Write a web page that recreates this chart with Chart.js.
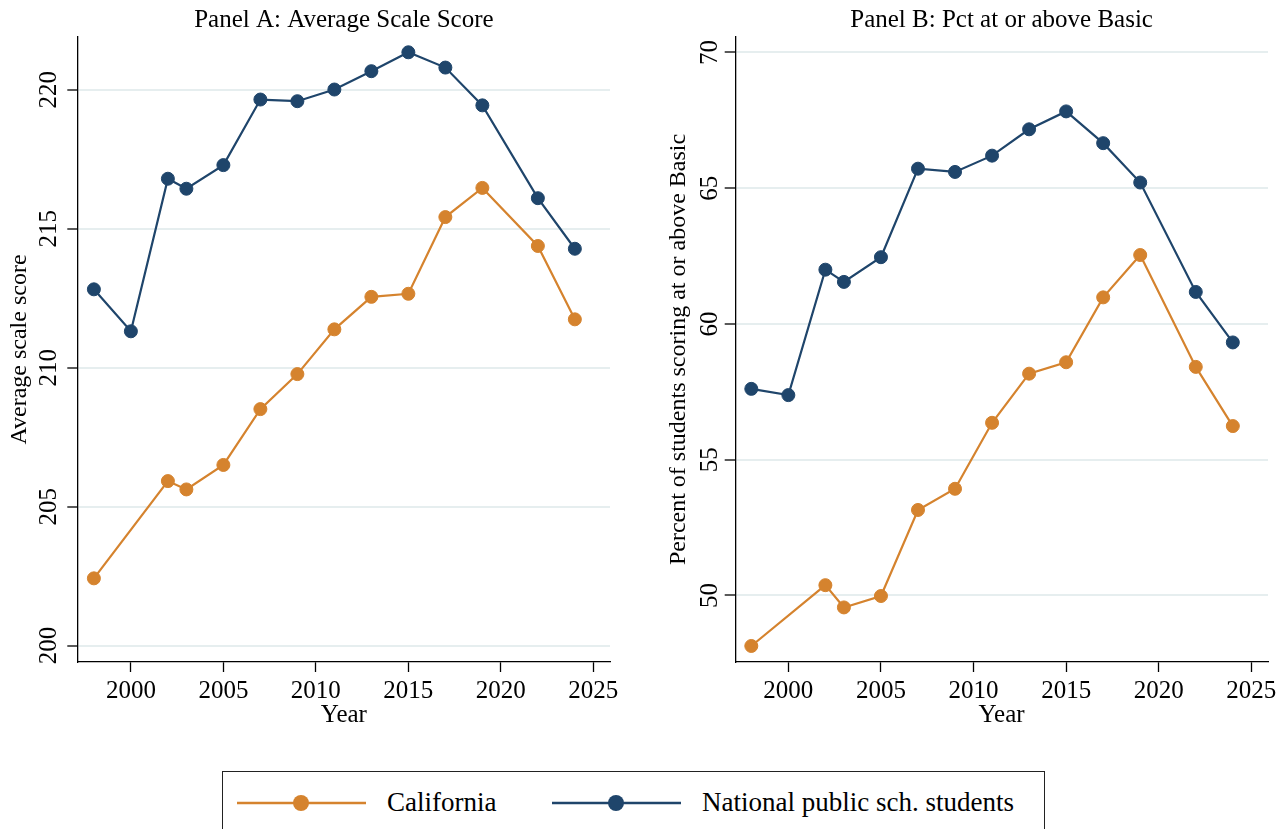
<!DOCTYPE html>
<html>
<head>
<meta charset="utf-8">
<script src="https://cdn.jsdelivr.net/npm/chart.js@4.4.1/dist/chart.umd.min.js"></script>
<style>
  body { margin: 0; background: #fff; font-family: 'Liberation Serif', 'Times New Roman', serif; }
  #page { position: relative; width: 1286px; height: 829px; overflow: hidden; }
  canvas { position: absolute; top: 0; }
  #panelA { left: 0; }
  #panelB { left: 640px; }
  #legend { position: absolute; left: 222px; top: 771px; width: 821px; height: 90px; border: 1.5px solid #222; }
  .item { position: absolute; top: 0; height: 61px; display: flex; align-items: center; font-size: 27px; color: #000; }
  .item svg { margin-right: 21px; }
</style>
</head>
<body>
<div id="page">
  <canvas id="panelA" width="640" height="745"></canvas>
  <canvas id="panelB" width="646" height="745"></canvas>
  <div id="legend">
    <div class="item" style="left:14px">
      <svg width="129" height="20"><line x1="0" y1="10" x2="129" y2="10" stroke="#D5832E" stroke-width="2.5"/><circle cx="64" cy="10" r="8" fill="#D5832E"/></svg>
      <span>California</span>
    </div>
    <div class="item" style="left:329px">
      <svg width="129" height="20"><line x1="0" y1="10" x2="129" y2="10" stroke="#1F456B" stroke-width="2.5"/><circle cx="64" cy="10" r="8" fill="#1F456B"/></svg>
      <span>National public sch. students</span>
    </div>
  </div>
</div>
<script>
const yearTicks = [2000, 2005, 2010, 2015, 2020, 2025];
const scoreTicks = [200, 205, 210, 215, 220];
const pctTicks = [50, 55, 60, 65, 70];

const caYears = [1998, 2002, 2003, 2005, 2007, 2009, 2011, 2013, 2015, 2017, 2019, 2022, 2024];
const natYears = [1998, 2000, 2002, 2003, 2005, 2007, 2009, 2011, 2013, 2015, 2017, 2019, 2022, 2024];

// Panel A: average scale score
const caScore = [202.42, 205.92, 205.62, 206.50, 208.51, 209.77, 211.38, 212.55, 212.66, 215.42, 216.47, 214.38, 211.74];
const natScore = [212.82, 211.31, 216.80, 216.44, 217.29, 219.65, 219.59, 220.01, 220.67, 221.35, 220.80, 219.44, 216.10, 214.28];

// Panel B: percent at or above Basic
const caPct = [48.14, 50.38, 49.56, 49.98, 53.15, 53.93, 56.36, 58.17, 58.59, 60.98, 62.54, 58.42, 56.24];
const natPct = [57.61, 57.38, 62.00, 61.55, 62.46, 65.72, 65.60, 66.20, 67.17, 67.83, 66.66, 65.21, 61.18, 59.32];

const orange = '#D5832E';
const navy = '#1F456B';

Chart.defaults.font.family = "'Liberation Serif', 'Times New Roman', serif";
Chart.defaults.color = '#000';

// y tick labels run bottom-to-top, so draw them rotated by hand
const verticalTicks = {
  id: 'verticalTicks',
  afterDraw(chart, args, opts) {
    const scale = chart.scales.y;
    const ctx = chart.ctx;
    ctx.save();
    ctx.fillStyle = '#000';
    ctx.font = "25px 'Liberation Serif', serif";
    ctx.textAlign = 'center';
    ctx.textBaseline = 'alphabetic';
    scale.ticks.forEach(t => {
      ctx.save();
      ctx.translate(scale.right - opts.gap, scale.getPixelForValue(t.value));
      ctx.rotate(-Math.PI / 2);
      ctx.fillText(String(t.value), 0, 0);
      ctx.restore();
    });
    ctx.restore();
  }
};

function series(xs, ys) {
  return xs.map((x, i) => ({ x: x, y: ys[i] }));
}

function lineSet(label, xs, ys, color) {
  return {
    label: label,
    data: series(xs, ys),
    borderColor: color,
    backgroundColor: color,
    borderWidth: 2.2,
    pointRadius: 6.5,
    pointBorderWidth: 1,
    pointBackgroundColor: color,
    pointBorderColor: color
  };
}

function makePanel(id, p) {
  new Chart(document.getElementById(id), {
    type: 'line',
    data: {
      datasets: [
        lineSet('California', caYears, p.ca, orange),
        lineSet('National public sch. students', natYears, p.nat, navy)
      ]
    },
    options: {
      responsive: false,
      animation: false,
      layout: { padding: { left: 0, right: p.padRight, top: 0, bottom: 0 } },
      plugins: {
        legend: { display: false },
        tooltip: { enabled: false },
        title: {
          display: true,
          text: p.title,
          fullSize: false,
          color: '#000',
          font: { size: 25, weight: 'normal', lineHeight: 1.2 },
          padding: { top: 5.5, bottom: 1.5 }
        },
        verticalTicks: { gap: p.tickGap }
      },
      scales: {
        x: {
          type: 'linear',
          min: 1997.13,
          max: 2025.9,
          afterBuildTicks: s => { s.ticks = yearTicks.map(v => ({ value: v })); },
          afterFit: s => { s.height = 83; },
          grid: { drawOnChartArea: false, tickLength: 10, tickColor: '#000', tickWidth: 1.3 },
          border: { display: true, color: '#000', width: 1.3 },
          ticks: { color: '#000', font: { size: 25 }, padding: 4.5, maxRotation: 0, callback: v => String(v) },
          title: { display: true, text: 'Year', color: '#000', font: { size: 25 }, padding: { top: 0, bottom: 14.5 } }
        },
        y: {
          min: p.yMin,
          max: p.yMax,
          afterBuildTicks: s => { s.ticks = p.yTicks.map(v => ({ value: v })); },
          afterFit: s => { s.width = p.axisWidth; },
          grid: { color: '#E6EEEF', lineWidth: 2, tickLength: 10.5, tickColor: '#000', tickWidth: 1.3 },
          border: { display: true, color: '#000', width: 1.3 },
          ticks: { display: false },
          title: { display: true, text: p.yTitle, color: '#000', font: { size: 24 }, padding: { top: p.titlePad } }
        }
      }
    },
    plugins: [verticalTicks]
  });
}

makePanel('panelA', {
  title: 'Panel A: Average Scale Score',
  yTitle: 'Average scale score',
  ca: caScore, nat: natScore,
  yMin: 199.41, yMax: 221.9, yTicks: scoreTicks,
  axisWidth: 77.8, padRight: 30, tickGap: 22.3, titlePad: 5.8
});

makePanel('panelB', {
  title: 'Panel B: Pct at or above Basic',
  yTitle: 'Percent of students scoring at or above Basic',
  ca: caPct, nat: natPct,
  yMin: 47.55, yMax: 70.57, yTicks: pctTicks,
  axisWidth: 95.2, padRight: 18, tickGap: 18.6, titlePad: 23.9
});
</script>
</body>
</html>
